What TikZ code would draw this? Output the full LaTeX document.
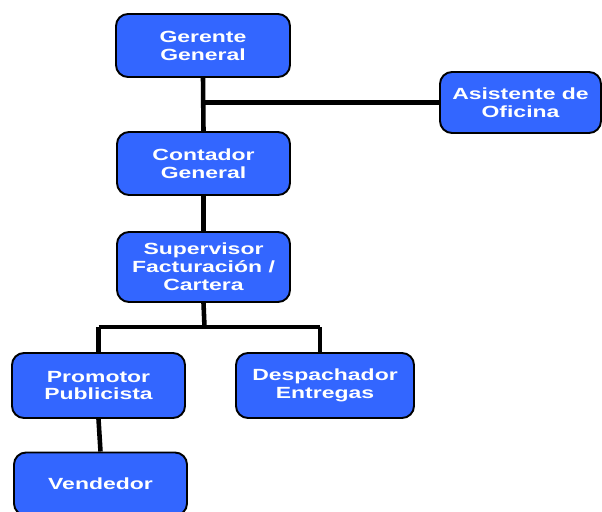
\documentclass[tikz,border=0pt]{standalone}
\usepackage{fontspec}
\setmainfont{Liberation Sans}[FakeStretch=1.42]
\usetikzlibrary{positioning}
\definecolor{cargoblue}{HTML}{3366FF}
\tikzset{cargo/.style={draw=black, line width=1.1pt, fill=cargoblue, rounded corners=0.24cm,
    text=white, font=\bfseries\fontsize{9.2}{10.2}\selectfont, align=center,
    minimum width=3.46cm, minimum height=1.26cm, inner sep=0pt},
  enlace/.style={line width=2.6pt, black}}

\begin{document}
\begin{tikzpicture}
            \useasboundingbox (0,0) rectangle (12.04,-10.22);

            % cargos
            \node[cargo, minimum width=3.48cm] (gerente) at (4.06,-0.91) {Gerente\\General};
            \node[cargo, minimum width=3.22cm, minimum height=1.22cm] (asistente) at (10.41,-2.05) {Asistente de\\Oficina};
            \node[cargo] (contador) at (4.07,-3.27) {Contador\\General};
            \node[cargo, minimum height=1.40cm] (supervisor) at (4.07,-5.34) {Supervisor\\Facturaci\'on /\\Cartera};
            \node[cargo, minimum height=1.30cm] (promotor) at (1.97,-7.71) {Promotor\\Publicista};
            \node[cargo, minimum width=3.56cm, minimum height=1.30cm] (despachador) at (6.50,-7.71) {Despachador\\Entregas};
            \node[cargo] (vendedor) at (2.01,-9.68) {Vendedor};

            % lineas
            \coordinate (jasis) at (gerente.south |- asistente.west);
            \coordinate (jsup) at (4.09,-6.54);
            \coordinate (jprom) at (1.97,-6.54);
            \coordinate (jdesp) at (6.40,-6.54);

            \draw[enlace] (gerente.south) -- (contador.north);
            \draw[enlace] (jasis) -- (asistente.west);
            \draw[enlace] (contador.south) -- (supervisor.north);
            \draw[enlace] (supervisor.south) -- (jsup);
            \draw[enlace] (jprom) -- (jdesp);
            \draw[enlace] (jprom) -- (promotor.north);
            \draw[enlace] (jdesp) -- (jdesp |- despachador.north);
            \draw[enlace] (promotor.south) -- (vendedor.north);
\end{tikzpicture}
\end{document}
